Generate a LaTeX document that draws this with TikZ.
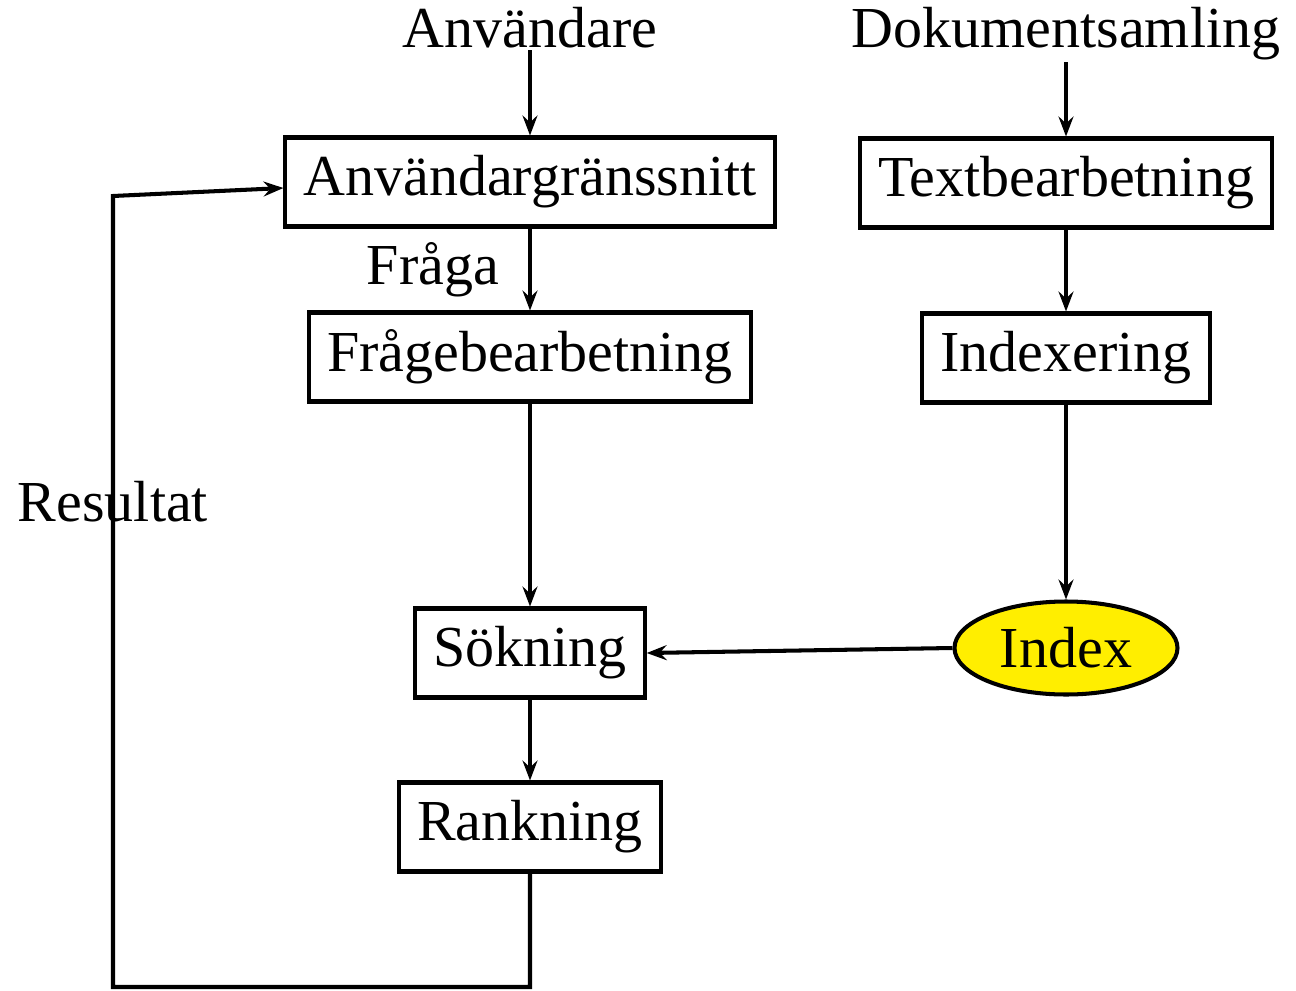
\documentclass[tikz,border=0pt]{standalone}
\usepackage{fontspec}
\setmainfont{Liberation Serif}
\usetikzlibrary{arrows.meta,shapes.geometric}
\definecolor{indexgul}{RGB}{255,238,0}

\begin{document}
\begin{tikzpicture}[x=1cm,y=-1cm,line width=1.15pt,
    font=\fontsize{16.5}{19}\selectfont,
    pil/.style={-{Stealth[length=0.2cm,width=0.15cm,inset=0.07cm]}},
    ruta/.style={draw,minimum height=0.89cm,inner xsep=0.18cm}]
    \useasboundingbox (0,0) rectangle (12.96,9.90);

    % vänster
    \node[inner sep=0,anchor=base] (anv) at (5.30,0.48) {Användare};
    \node[ruta] (grans) at (5.30,1.82) {Användargränssnitt};
    \node[ruta] (fbearb) at (5.30,3.57) {Frågebearbetning};
    \node[ruta] (sok) at (5.30,6.53) {Sökning};
    \node[ruta] (rank) at (5.30,8.27) {Rankning};
    \node (fraga) at (4.33,2.70) {Fråga};

    \draw[pil] ([yshift=-0.02cm]anv.base) -- (grans.north);
    \draw[pil] (grans) -- (fbearb);
    \draw[pil] (fbearb) -- (sok);
    \draw[pil] (sok) -- (rank);

    % höger
    \node[inner sep=0,anchor=base] (dok) at (10.66,0.48) {Dokumentsamling};
    \node[ruta] (tbearb) at (10.66,1.83) {Textbearbetning};
    \node[ruta] (idxering) at (10.66,3.58) {Indexering};
    \node[draw,ellipse,fill=indexgul,minimum width=2.23cm,minimum height=0.93cm,inner sep=0] (idx) at (10.66,6.48) {Index};

    \draw[pil] ([yshift=-0.14cm]dok.base) -- (tbearb.north);
    \draw[pil] (tbearb) -- (idxering);
    \draw[pil] (idxering) -- (idx);
    \draw[pil] (idx.west) -- (sok.east);

    % resultat tillbaka
    \coordinate (botten) at (5.30,9.87);
    \coordinate (hornet) at (1.13,9.87);
    \coordinate (upp) at (1.13,1.96);
    \draw[pil] (rank.south) -- (botten) -- (hornet) -- (upp) -- ([yshift=-0.06cm]grans.west);
    \node (res) at (1.13,5.02) {Resultat};
\end{tikzpicture}
\end{document}
